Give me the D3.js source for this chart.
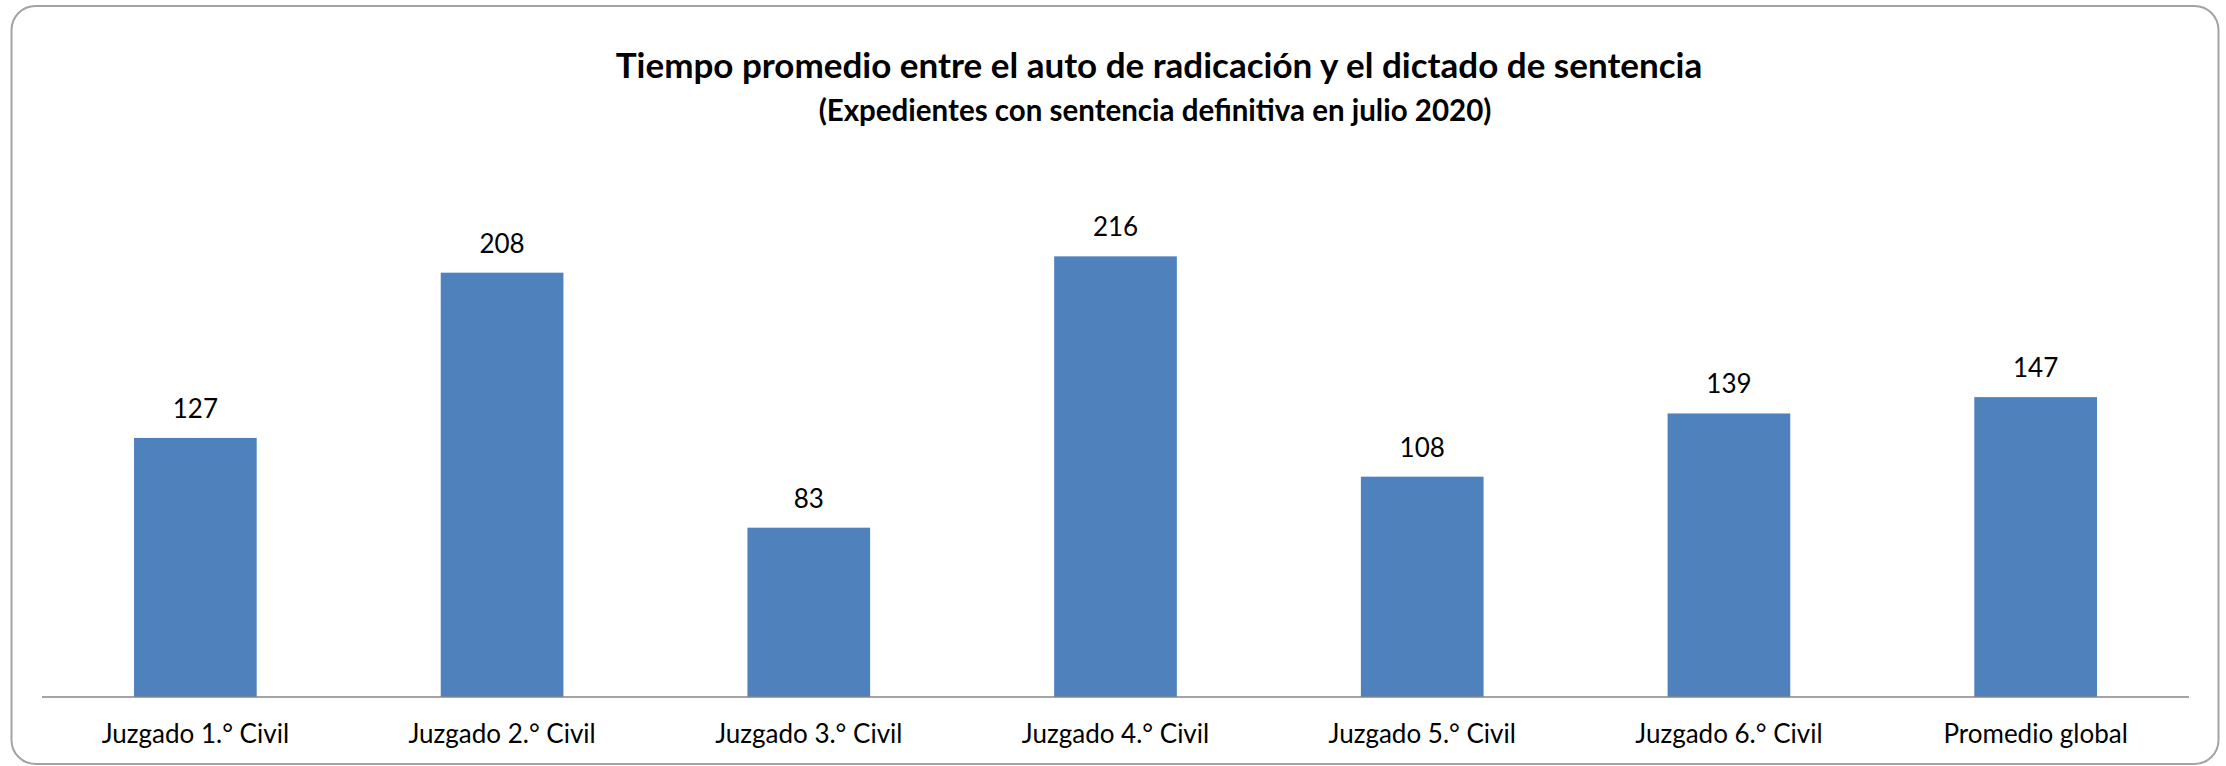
<!DOCTYPE html>
<html>
<head>
<meta charset="utf-8">
<script src="https://cdn.jsdelivr.net/npm/d3@7"></script>
<style>
  html, body { margin: 0; padding: 0; background: #fff; }
  svg { display: block; }
</style>
</head>
<body>
<svg id="chart" width="2226" height="766"></svg>
<script>
// data
const categories = ["Juzgado 1.° Civil", "Juzgado 2.° Civil", "Juzgado 3.° Civil", "Juzgado 4.° Civil",
  "Juzgado 5.° Civil", "Juzgado 6.° Civil", "Promedio global"];
const values = [127, 208, 83, 216, 108, 139, 147];
const titleText = "Tiempo promedio entre el auto de radicación y el dictado de sentencia";
const subtitleText = "(Expedientes con sentencia definitiva en julio 2020)";

const FONT = "Lato, 'Open Sans', sans-serif";

function drawChart() {
  const svg = d3.select("#chart");

  // chart frame
  svg.append("rect")
    .attr("x", 11.5).attr("y", 6)
    .attr("width", 2207).attr("height", 758)
    .attr("rx", 24).attr("ry", 24)
    .attr("fill", "#fff")
    .attr("stroke", "#a3a3a3")
    .attr("stroke-width", 2);

  // titles
  svg.append("text")
    .attr("x", 1159).attr("y", 78)
    .attr("text-anchor", "middle")
    .attr("font-family", FONT)
    .attr("font-weight", "bold")
    .attr("font-size", 35)
    .attr("fill", "#000")
    .text(titleText);

  svg.append("text")
    .attr("x", 1155).attr("y", 121)
    .attr("text-anchor", "middle")
    .attr("font-family", FONT)
    .attr("font-weight", "bold")
    .attr("font-size", 29.5)
    .attr("fill", "#000")
    .text(subtitleText);

  // scales
  const x = d3.scaleBand()
    .domain(categories)
    .range([42, 2189])
    .paddingInner(0.6)
    .paddingOuter(0.3);

  const y = d3.scaleLinear()
    .domain([0, 250])
    .range([697, 187]);

  const data = categories.map((c, i) => ({ cat: c, val: values[i] }));

  // bars
  svg.append("g").selectAll("rect")
    .data(data)
    .enter()
    .append("rect")
    .attr("x", d => x(d.cat))
    .attr("y", d => y(d.val))
    .attr("width", x.bandwidth())
    .attr("height", d => y(0) - y(d.val))
    .attr("fill", "#4f81bd");

  // value labels
  svg.append("g").selectAll("text")
    .data(data)
    .enter()
    .append("text")
    .attr("x", d => x(d.cat) + x.bandwidth() / 2)
    .attr("y", d => y(d.val) - 20)
    .attr("text-anchor", "middle")
    .attr("font-family", FONT)
    .attr("font-size", 26)
    .attr("fill", "#000")
    .text(d => d.val);

  // x axis
  const xAxis = d3.axisBottom(x).tickSize(0).tickPadding(0);
  const gx = svg.append("g")
    .attr("transform", `translate(0, ${y(0)})`)
    .call(xAxis);
  gx.select(".domain")
    .attr("stroke", "#868686")
    .attr("stroke-width", 1.5)
    .attr("d", "M42,0H2189");
  gx.selectAll(".tick text")
    .attr("y", 46)
    .attr("dy", 0)
    .attr("font-family", FONT)
    .attr("font-size", 26)
    .attr("fill", "#000");
}

drawChart();
</script>
</body>
</html>
